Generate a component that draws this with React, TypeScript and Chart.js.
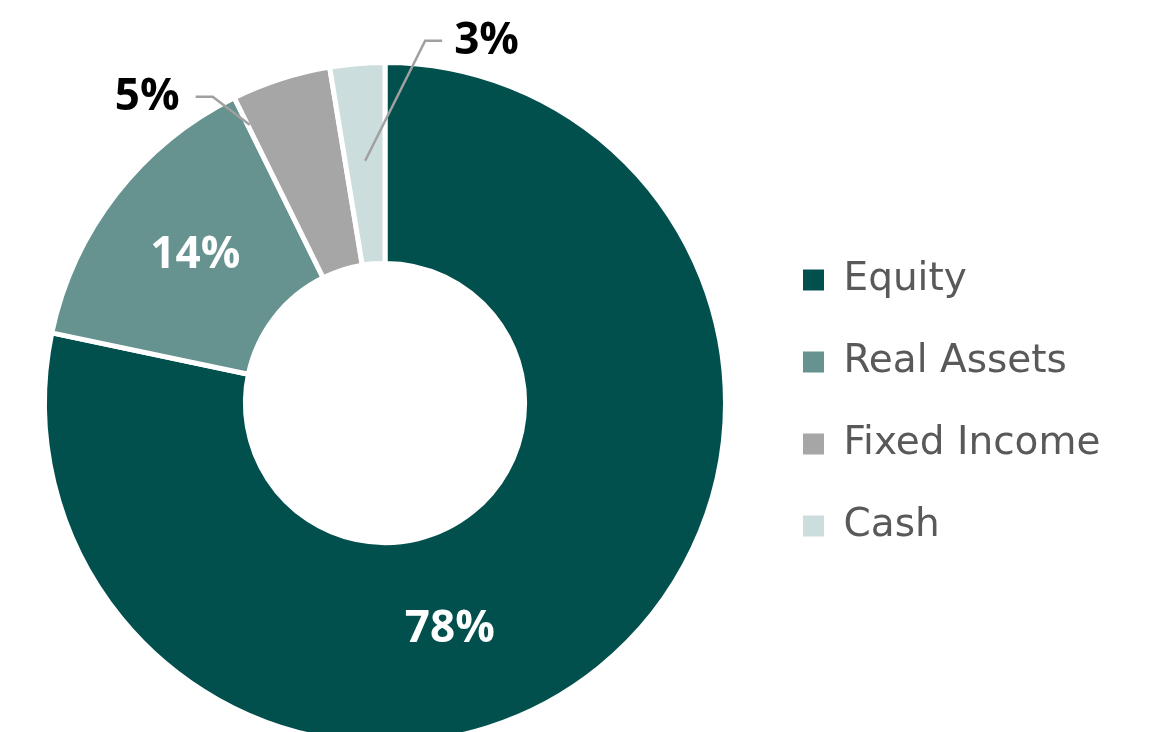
import React, { useEffect, useRef } from "react";
import { Chart, registerables } from "chart.js";

Chart.register(...registerables);

const categories = ["Equity", "Real Assets", "Fixed Income", "Cash"];
const shares = [78.3, 14.4, 4.7, 2.6];
const shareLabels = ["78%", "14%", "5%", "3%"];
const sliceColors = ["#02504E", "#66928F", "#A6A6A6", "#CCDDDD"];

const LABEL_FONT = "'Open Sans', 'DejaVu Sans', sans-serif";
const LEGEND_FONT = "'DejaVu Sans', 'Open Sans', sans-serif";
const LEGEND_SIZE = 39;
const LEGEND_PAD = 43;
const LEGEND_BOX = 21;
const LEGEND_LEFT = 760;
const CANVAS_W = 1151;
const CANVAS_H = 760;

// label placement styles (fractions within each slice)
const labelStyles = [
  { inside: true, af: 0.582, rf: 0.48 },
  { inside: true, af: 0.5, rf: 0.5 },
  { inside: false, af: 0.02, rf: 0.845, ex: -37, ey: -28, tail: -17, gap: 16 },
  { inside: false, af: 0.5, rf: 0.515, ex: 60, ey: -120, tail: 17, gap: 12 },
];

const labelPlugin = {
  id: "sliceLabels",
  afterDatasetsDraw(chart: any) {
    const ctx = chart.ctx;
    const meta = chart.getDatasetMeta(0);
    meta.data.forEach((arc: any, i: number) => {
      const st = labelStyles[i];
      const p = arc.getProps(["x", "y", "startAngle", "endAngle", "innerRadius", "outerRadius"], true);
      const a = p.startAngle + (p.endAngle - p.startAngle) * st.af;
      const r = p.innerRadius + (p.outerRadius - p.innerRadius) * st.rf;
      const ax = p.x + Math.cos(a) * r;
      const ay = p.y + Math.sin(a) * r;
      ctx.save();
      ctx.font = `bold 44px ${LABEL_FONT}`;
      ctx.textBaseline = "middle";
      if (st.inside) {
        ctx.fillStyle = "#FFFFFF";
        ctx.textAlign = "center";
        ctx.fillText(shareLabels[i], ax, ay);
      } else {
        const exx = ax + (st.ex as number);
        const eyy = ay + (st.ey as number);
        const tx = exx + (st.tail as number);
        ctx.strokeStyle = "#A0A0A0";
        ctx.lineWidth = 2.5;
        ctx.beginPath();
        ctx.moveTo(ax, ay);
        ctx.lineTo(exx, eyy);
        ctx.lineTo(tx, eyy);
        ctx.stroke();
        ctx.fillStyle = "#000000";
        const left = (st.tail as number) > 0;
        ctx.textAlign = left ? "left" : "right";
        ctx.fillText(shareLabels[i], tx + (left ? st.gap! : -st.gap!), eyy + 1);
      }
      ctx.restore();
    });
  },
};

export default function App() {
  const ref = useRef<HTMLCanvasElement | null>(null);
  useEffect(() => {
    if (!ref.current) return;
    const mctx = document.createElement("canvas").getContext("2d")!;
    mctx.font = `${LEGEND_SIZE}px ${LEGEND_FONT}`;
    const maxText = Math.max(...categories.map((c) => mctx.measureText(c).width));
    const legendW = LEGEND_PAD + LEGEND_BOX + LEGEND_SIZE / 2 + maxText + 10;
    const padRight = Math.max(0, CANVAS_W - (LEGEND_LEFT + legendW));
    const padLeft = 2 * 385 - LEGEND_LEFT;

    const chart = new Chart(ref.current, {
      type: "doughnut",
      data: {
        labels: categories,
        datasets: [
          {
            data: shares,
            backgroundColor: sliceColors,
            borderColor: "#FFFFFF",
            borderWidth: 5,
            hoverOffset: 0,
          },
        ],
      },
      options: {
        responsive: false,
        animation: false,
        cutout: "41%",
        layout: { padding: { left: padLeft, right: padRight, top: 60, bottom: 14 } },
        plugins: {
          tooltip: { enabled: false },
          legend: {
            position: "right",
            labels: {
              boxWidth: LEGEND_BOX,
              boxHeight: LEGEND_BOX,
              padding: LEGEND_PAD,
              color: "#595959",
              font: { family: LEGEND_FONT, size: LEGEND_SIZE },
              generateLabels: () =>
                categories.map((name, i) => ({
                  text: name,
                  fillStyle: sliceColors[i],
                  strokeStyle: "rgba(0,0,0,0)",
                  lineWidth: 0,
                  hidden: false,
                  index: i,
                  fontColor: "#595959",
                })),
            },
          },
        },
      },
      plugins: [labelPlugin],
    });
    return () => chart.destroy();
  }, []);
  return (
    <div style={{ position: "fixed", left: 0, top: 0, width: 1151, height: 732, overflow: "hidden", background: "#fff" }}>
      <canvas ref={ref} width={CANVAS_W} height={CANVAS_H} style={{ display: "block" }} />
    </div>
  );
}
